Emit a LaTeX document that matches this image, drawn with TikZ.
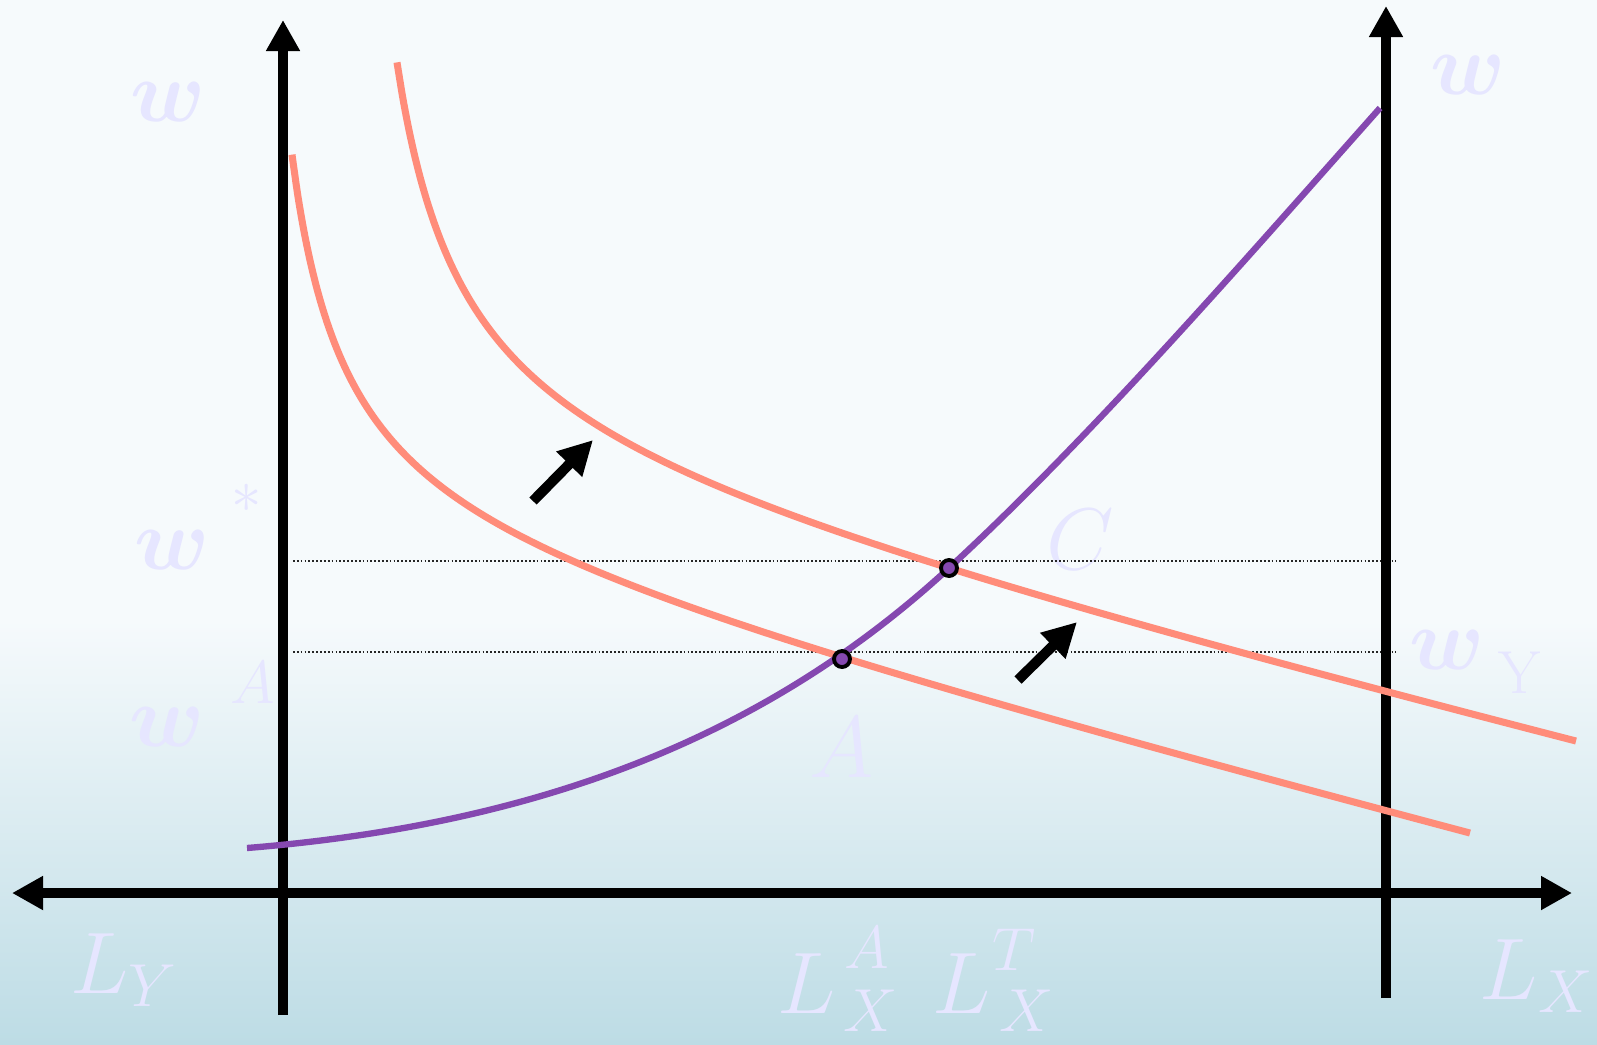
\documentclass[tikz,border=0pt]{standalone}
\usetikzlibrary{arrows.meta}

\definecolor{spros}{HTML}{FF8C7A}
\definecolor{predl}{HTML}{8548B0}
\definecolor{metka}{HTML}{E6E6FF}
\definecolor{fonverh}{HTML}{F6FAFC}
\definecolor{fonniz}{HTML}{BDDCE5}

\begin{document}
\begin{tikzpicture}[
    x=0.01cm,
    y=-0.01cm,
    axis/.style={
        line width=3pt,
        -{Triangle[length=3.1mm,width=3.2mm]}
    },
    sdvig/.style={
        line width=2.9pt,
        -{Triangle[length=3.4mm,width=3.4mm]}
    },
    krivspros/.style={
        spros,
        line width=2pt
    },
    krivpredl/.style={
        predl,
        line width=1.8pt
    },
    uroven/.style={
        line width=0.5pt,
        black!85,
        dash pattern=on 0.5pt off 0.6pt
    },
    tochka/.style={
        circle,
        draw=black,
        fill=predl,
        line width=1.1pt,
        minimum size=0.16cm,
        inner sep=0pt
    },
    metkabig/.style={
        text=metka,
        inner sep=0pt,
        font=\fontsize{27}{30}\selectfont
    },
    metkaw/.style={
        text=metka,
        inner sep=0pt,
        font=\fontsize{26}{30}\selectfont\boldmath
    },
    metkasmall/.style={
        text=metka,
        inner sep=0pt,
        font=\fontsize{17}{20}\selectfont
    }
]

% =================================================
% Фон
% =================================================

\useasboundingbox (0,0) rectangle (1597,1044);
\fill[fonverh] (0,0) rectangle (1597,620);
\shade[top color=fonverh, bottom color=fonniz]
    (0,620) rectangle (1597,1044);

% =================================================
% Подписи
% =================================================

\node[metkaw] (wleft) at (168,102) {$w$};
\node[metkaw] (wright) at (1468,75) {$w$};

\node[metkaw] (wstar) at (172,550) {$w$};
\node[metkasmall] (wstarsup) at (247,498) {$*$};

\node[metkaw] (wA) at (167,727) {$w$};
\node[metkasmall] (wAsup) at (253,683) {$A$};

\node[metkaw] (wY) at (1447,650) {$w$};
\node[metkasmall] (wYsub) at (1520,673) {$\mathrm{Y}$};

\node[metkabig] (lblC) at (1080,540) {$C$};
\node[metkabig,font=\fontsize{28}{32}\selectfont] (lblA) at (842,748) {$A$};

\node[metkabig] (LY) at (124,970) {$L_Y$};
\node[metkabig] (LX) at (1537,976) {$L_X$};

% L_X^A
\node[metkabig,anchor=base west] (LXA) at (777,1013) {$L$};
\node[metkasmall,anchor=base] (LXAsup) at (867,968) {$A$};
\node[metkasmall,anchor=base] (LXAsub) at (871,1031) {$X$};

% L_X^T
\node[metkabig,anchor=base west] (LXT) at (932,1013) {$L$};
\node[metkasmall,anchor=base] (LXTsup) at (1014,970) {$T$};
\node[metkasmall,anchor=base] (LXTsub) at (1027,1031) {$X$};

% =================================================
% Уровни зарплаты
% =================================================

\draw[uroven] (293,561)--(1396,561);
\draw[uroven] (293,652)--(1396,652);

% =================================================
% Оси
% =================================================

\draw[axis] (283,1015)--(283,20);
\draw[axis] (1386,998)--(1386,6);
\draw[line width=3pt,
    {Triangle[length=3.1mm,width=3.2mm]}-{Triangle[length=3.1mm,width=3.2mm]}]
    (12,893)--(1572,893);

% =================================================
% Кривые спроса
% =================================================

% Нижняя кривая
\draw[krivspros] plot[domain=292:1470, samples=200, smooth]
    (\x, {480.2 + 0.2517*\x - 211.5/((\x-239)/100)});

% Верхняя кривая
\draw[krivspros] plot[domain=397:1576, samples=200, smooth]
    (\x, {383.5 + 0.24064*\x - 270.82/((\x-332)/100)});

% =================================================
% Кривая предложения
% =================================================

\coordinate (S0) at (247,848);
\coordinate (S1) at (1380,108);
\coordinate (ptA) at (842,659);
\coordinate (ptC) at (949,568);

\draw[krivpredl]
    (S0) .. controls (530,825) and (760,742) .. (ptC)
         .. controls (1089,439) and (1240,265.5) .. (S1);

% =================================================
% Равновесия
% =================================================

\node[tochka] (eqA) at (ptA) {};
\node[tochka] (eqC) at (ptC) {};

% =================================================
% Сдвиги спроса
% =================================================

\coordinate (s1a) at (533,501);
\coordinate (s1b) at (593,440);
\coordinate (s2a) at (1018,680);
\coordinate (s2b) at (1077,622);

\draw[sdvig] (s1a)--(s1b);
\draw[sdvig] (s2a)--(s2b);

\end{tikzpicture}
\end{document}
